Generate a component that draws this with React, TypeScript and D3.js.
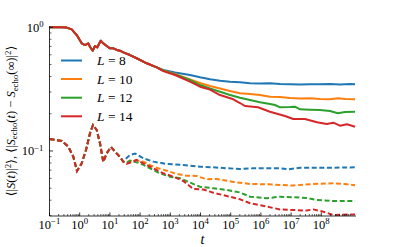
import React from 'react';
import * as d3 from 'd3';

const W = 395;
const H = 247;

const sizes = [8, 10, 12, 14];
const colors = ['#1f77b4', '#ff7f0e', '#2ca02c', '#d62728'];

// Solid curves: <|S_echo(t) - S_echo(inf)|^2>, shared early part
const tSolidShared = [0.1, 0.254, 0.372, 0.543, 0.796, 1.165, 1.5, 1.93, 2.19, 2.69, 3.21, 3.83, 4.96, 6.04, 7.83, 10.1, 13.0, 16.8, 21.6, 27.8, 46, 77, 166, 355];
const vSolidShared = [1.0, 1.0, 0.995, 0.963, 0.866, 0.742, 0.719, 0.742, 0.697, 0.647, 0.706, 0.689, 0.779, 0.742, 0.706, 0.676, 0.676, 0.656, 0.647, 0.628, 0.597, 0.562, 0.512, 0.475];

const tSolid8 = [586, 1430, 4487, 9620, 20650, 44250, 94900, 2.03e5, 4.36e5, 9.33e5, 2.0e6, 4.29e6, 9.2e6, 1.97e7, 4.23e7, 9.06e7, 1.94e8, 4.16e8, 8.91e8, 1.31e9];
const vSolid8 = [0.452, 0.431, 0.4115, 0.394, 0.38, 0.37, 0.363, 0.359, 0.3526, 0.3513, 0.3526, 0.348, 0.346, 0.3447, 0.346, 0.346, 0.348, 0.3447, 0.348, 0.346];

const tSolid10 = [586, 1430, 4487, 9620, 20650, 44250, 94900, 2.03e5, 4.36e5, 9.33e5, 2.0e6, 4.29e6, 9.2e6, 1.97e7, 4.23e7, 9.06e7, 1.94e8, 3.57e8, 6.09e8, 1.31e9];
const vSolid10 = [0.4475, 0.419, 0.3784, 0.3546, 0.3353, 0.32, 0.3055, 0.2927, 0.2889, 0.2836, 0.2748, 0.2732, 0.2682, 0.2657, 0.2667, 0.2633, 0.2618, 0.2667, 0.2633, 0.2618];

const tSolid12 = [586, 1430, 4487, 9620, 20650, 44250, 94900, 2.03e5, 4.36e5, 9.33e5, 2.0e6, 2.93e6, 4.29e6, 9.2e6, 1.35e7, 1.97e7, 4.23e7, 9.06e7, 1.94e8, 3.57e8, 6.09e8, 1.31e9];
const vSolid12 = [0.4475, 0.4153, 0.375, 0.3415, 0.32, 0.3016, 0.2836, 0.2697, 0.2584, 0.2475, 0.2399, 0.2354, 0.2256, 0.2269, 0.2281, 0.2174, 0.2158, 0.2145, 0.2105, 0.2017, 0.2066, 0.2078];

const tSolid14 = [586, 1430, 4487, 9620, 20650, 44250, 1.22e5, 2.03e5, 2.98e5, 8.02e5, 2.0e6, 6.28e6, 1.18e7, 2.88e7, 7.21e7, 1.51e8, 2.49e8, 4.16e8, 7.1e8, 1.31e9];
const vSolid14 = [0.4432, 0.4115, 0.3633, 0.3309, 0.3141, 0.2836, 0.2618, 0.2443, 0.2311, 0.2256, 0.2078, 0.1918, 0.1814, 0.1814, 0.1706, 0.1653, 0.1694, 0.1602, 0.1643, 0.1572];

// Dashed curves: <|S(t)|^2>, shared early part
const tDashShared = [0.1, 0.254, 0.42, 0.614, 0.815, 1.165, 1.62, 2.19, 2.75, 3.66, 4.7, 6.04, 7.83, 10.9, 14.8, 21.6, 27.8];
const vDashShared = [0.125, 0.1204, 0.1083, 0.0899, 0.0689, 0.0796, 0.1019, 0.139, 0.1622, 0.1478, 0.1154, 0.0815, 0.0958, 0.1077, 0.0987, 0.0894, 0.082];

const tDash8 = [36, 46, 67.8, 128, 274, 760, 2692, 9620, 26550, 73800, 2.03e5, 5.6e5, 1.56e6, 4.29e6, 8.08e6, 1.97e7, 7.04e7, 2.49e8, 1.31e9];
const vDash8 = [0.0878, 0.0928, 0.0954, 0.0873, 0.082, 0.0785, 0.077, 0.0746, 0.0738, 0.0725, 0.0715, 0.0725, 0.0725, 0.0725, 0.0711, 0.0733, 0.0733, 0.0733, 0.0738];

const tDash10 = [36, 60, 128, 274, 760, 1630, 3490, 7480, 16030, 34360, 1.22e5, 4.36e5, 1.56e6, 4.29e6, 1.18e7, 5.43e7, 2.49e8, 6.09e8, 1.31e9];
const vDash10 = [0.0815, 0.0846, 0.082, 0.0746, 0.0693, 0.0652, 0.0631, 0.0628, 0.059, 0.0594, 0.0562, 0.0541, 0.0538, 0.0531, 0.0526, 0.0541, 0.0548, 0.0541, 0.0528];

const tDash12 = [36, 46, 99, 213, 456, 977, 2094, 4487, 9620, 26550, 73800, 2.03e5, 4.36e5, 1.56e6, 4.29e6, 1.18e7, 3.29e7, 7.04e7, 2.49e8, 1.31e9];
const vDash12 = [0.08, 0.0835, 0.0796, 0.0725, 0.066, 0.062, 0.0602, 0.0556, 0.0514, 0.0499, 0.0484, 0.0462, 0.0427, 0.0415, 0.0427, 0.0422, 0.0417, 0.0402, 0.0394, 0.0394];

const tDash14 = [36, 77, 213, 586, 1256, 2692, 5776, 12390, 26550, 73800, 2.03e5, 4.36e5, 1.56e6, 4.29e6, 1.18e7, 3.29e7, 5.43e7, 1.16e8, 2.49e8, 1.31e9];
const vDash14 = [0.0785, 0.0846, 0.0746, 0.066, 0.062, 0.0572, 0.0493, 0.0488, 0.046, 0.0433, 0.0407, 0.0378, 0.0355, 0.0337, 0.0333, 0.033, 0.0337, 0.0323, 0.0304, 0.0307];

const xMajorExps = [-1, 0, 1, 2, 3, 4, 5, 6, 7, 8];
const yMajorExps = [-1, 0];

const solidTails = [[tSolid8, vSolid8], [tSolid10, vSolid10], [tSolid12, vSolid12], [tSolid14, vSolid14]];
const dashTails = [[tDash8, vDash8], [tDash10, vDash10], [tDash12, vDash12], [tDash14, vDash14]];

const FONT = "'Liberation Serif', 'DejaVu Serif', serif";

const x = d3.scaleLog().domain([0.1, 1.41e9]).range([49.5, 356]);
const y = d3.scaleLog().domain([0.0298, 1.025]).range([216, 26]);

const zip = (ts: number[], vs: number[]) => ts.map((t, i) => [t, vs[i]] as [number, number]);

const line = d3.line<[number, number]>().x(d => x(d[0])).y(d => y(d[1]));

function Pow({ px, py, exp, anchor }: { px: number; py: number; exp: number; anchor: string }) {
  const e = exp < 0 ? '\u2212' + String(-exp) : String(exp);
  return (
    <text x={px} y={py} textAnchor={anchor as any} fontFamily={FONT} fontSize={12.5} fill="#000">
      10<tspan dy="-0.5em" fontSize="0.7em">{e}</tspan>
    </text>
  );
}

export default function App() {
  const [x0, x1] = x.range();
  const [yb, yt] = y.range();

  const xMinor: number[] = [];
  for (let e = -1; e <= 9; e++) {
    for (let k = 2; k <= 9; k++) {
      const v = k * Math.pow(10, e);
      if (v <= x.domain()[1]) xMinor.push(v);
    }
  }
  const yMinor: number[] = [];
  for (let e = -2; e <= -1; e++) {
    for (let k = 2; k <= 9; k++) {
      const v = k * Math.pow(10, e);
      if (v >= y.domain()[0] && v <= y.domain()[1]) yMinor.push(v);
    }
  }

  const solidData = solidTails.map(([ts, vs]) => zip(tSolidShared, vSolidShared).concat(zip(ts, vs)));
  const dashData = dashTails.map(([ts, vs]) => zip(tDashShared, vDashShared).concat(zip(ts, vs)));

  const legendY = [60.5, 79, 97.7, 116.3];

  return (
    <svg width={W} height={H} style={{ position: 'absolute', left: 0, top: 0, background: '#fff' }}>
      <defs>
        <clipPath id="plotclip">
          <rect x={x0} y={yt} width={x1 - x0} height={yb - yt} />
        </clipPath>
      </defs>
      <g clipPath="url(#plotclip)">
        {dashData.map((d, i) => (
          <path key={'d' + i} d={line(d) || ''} fill="none" stroke={colors[i]} strokeWidth={2} strokeDasharray="5,2.6" />
        ))}
        {solidData.map((d, i) => (
          <path key={'s' + i} d={line(d) || ''} fill="none" stroke={colors[i]} strokeWidth={2} strokeLinejoin="round" />
        ))}
      </g>

      {/* spines */}
      <line x1={x0} x2={x0} y1={yt} y2={yb} stroke="#000" strokeWidth={0.8} />
      <line x1={x0} x2={x1} y1={yb} y2={yb} stroke="#000" strokeWidth={0.8} />

      {/* x ticks */}
      {xMajorExps.map(e => {
        const px = x(Math.pow(10, e));
        return (
          <g key={'xm' + e}>
            <line x1={px} x2={px} y1={yb} y2={yb - 3.5} stroke="#000" strokeWidth={0.8} />
            <Pow px={px} py={228.5} exp={e} anchor="middle" />
          </g>
        );
      })}
      {xMinor.map((v, i) => {
        const px = x(v);
        return <line key={'xn' + i} x1={px} x2={px} y1={yb} y2={yb - 2} stroke="#000" strokeWidth={0.6} />;
      })}

      {/* y ticks */}
      {yMajorExps.map(e => {
        const py = y(Math.pow(10, e));
        return (
          <g key={'ym' + e}>
            <line x1={x0} x2={x0 + 3.5} y1={py} y2={py} stroke="#000" strokeWidth={0.8} />
            <Pow px={43.5} py={py + 4.3} exp={e} anchor="end" />
          </g>
        );
      })}
      {yMinor.map((v, i) => {
        const py = y(v);
        return <line key={'yn' + i} x1={x0} x2={x0 + 2} y1={py} y2={py} stroke="#000" strokeWidth={0.6} />;
      })}

      {/* legend */}
      {sizes.map((L, i) => (
        <g key={'lg' + L}>
          <line x1={61} x2={82} y1={legendY[i]} y2={legendY[i]} stroke={colors[i]} strokeWidth={2} />
          <text x={97} y={legendY[i] + 4.6} fontFamily={FONT} fontSize={13.5} fill="#000">
            <tspan fontStyle="italic">L</tspan>
            <tspan> = {L}</tspan>
          </text>
        </g>
      ))}

      {/* x label */}
      <text x={202.5} y={243.5} textAnchor="middle" fontFamily={FONT} fontStyle="italic" fontSize={14} fill="#000">t</text>

      {/* y label */}
      <text transform="translate(15,121) rotate(-90)" textAnchor="middle" fontFamily={FONT} fontSize={12.5} fill="#000">
        <tspan>⟨|</tspan>
        <tspan fontStyle="italic">S</tspan>
        <tspan>(</tspan>
        <tspan fontStyle="italic">t</tspan>
        <tspan>)|</tspan>
        <tspan dy="-0.45em" fontSize="0.7em">2</tspan>
        <tspan dy="0.3em">⟩, ⟨|</tspan>
        <tspan fontStyle="italic">S</tspan>
        <tspan dy="0.3em" fontSize="0.7em">echo</tspan>
        <tspan dy="-0.2em">(</tspan>
        <tspan fontStyle="italic">t</tspan>
        <tspan>) − </tspan>
        <tspan fontStyle="italic">S</tspan>
        <tspan dy="0.3em" fontSize="0.7em">echo</tspan>
        <tspan dy="-0.2em">(∞)|</tspan>
        <tspan dy="-0.45em" fontSize="0.7em">2</tspan>
        <tspan dy="0.3em">⟩</tspan>
      </text>
    </svg>
  );
}
